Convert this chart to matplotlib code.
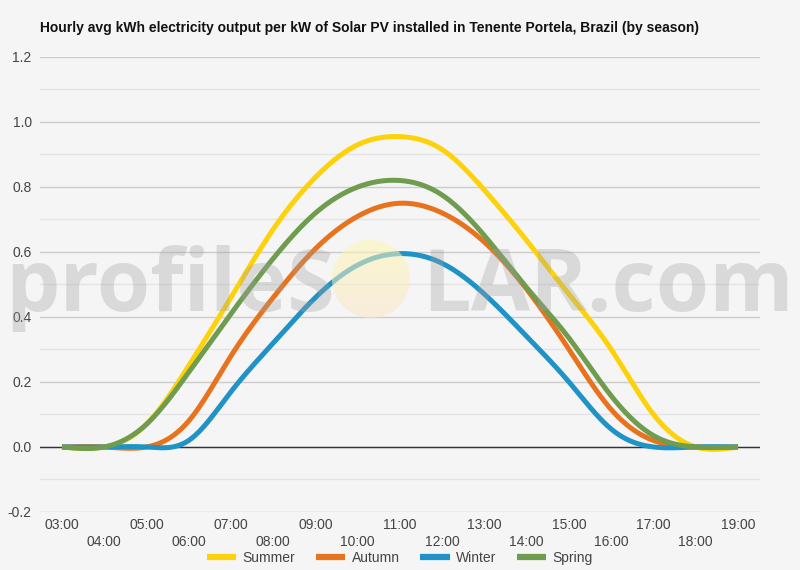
import numpy as np
import matplotlib
matplotlib.use("Agg")
import matplotlib.pyplot as plt
from matplotlib.patches import Circle
from matplotlib.ticker import MultipleLocator, FixedLocator

hours = list(range(3, 20))
hour_labels = [f"{h:02d}:00" for h in hours]

summer = [0.0, 0.0, 0.07, 0.25, 0.46, 0.67, 0.83, 0.93, 0.955, 0.915, 0.79, 0.635, 0.47, 0.30, 0.10, 0.0, 0.0]
autumn = [0.0, 0.0, 0.0, 0.08, 0.28, 0.46, 0.61, 0.71, 0.75, 0.72, 0.63, 0.485, 0.30, 0.115, 0.02, 0.0, 0.0]
winter = [0.0, 0.0, 0.0, 0.02, 0.17, 0.32, 0.46, 0.56, 0.595, 0.565, 0.47, 0.34, 0.20, 0.055, 0.0, 0.0, 0.0]
spring = [0.0, 0.0, 0.07, 0.23, 0.41, 0.58, 0.72, 0.80, 0.82, 0.775, 0.65, 0.49, 0.335, 0.157, 0.035, 0.0, 0.0]

series_names = ["Summer", "Autumn", "Winter", "Spring"]
series_colors = ["#fdd20a", "#e8731f", "#1f93c6", "#6f9c4f"]

title = "Hourly avg kWh electricity output per kW of Solar PV installed in Tenente Portela, Brazil (by season)"

FONT = ["Liberation Sans", "DejaVu Sans"]


def smooth(x, y, n=24):
    """Natural cubic spline through the data points (drawing only)."""
    x = np.asarray(x, float)
    y = np.asarray(y, float)
    k = len(x)
    h = np.diff(x)
    A = np.zeros((k, k))
    r = np.zeros(k)
    A[0, 0] = A[-1, -1] = 1.0
    for i in range(1, k - 1):
        A[i, i - 1] = h[i - 1]
        A[i, i] = 2 * (h[i - 1] + h[i])
        A[i, i + 1] = h[i]
        r[i] = 6 * ((y[i + 1] - y[i]) / h[i] - (y[i] - y[i - 1]) / h[i - 1])
    M = np.linalg.solve(A, r)
    xs, ys = [], []
    for i in range(k - 1):
        t = np.linspace(x[i], x[i + 1], n, endpoint=False)
        a = (x[i + 1] - t) / h[i]
        b = (t - x[i]) / h[i]
        s = (a * y[i] + b * y[i + 1]
             + ((a**3 - a) * M[i] + (b**3 - b) * M[i + 1]) * h[i] ** 2 / 6)
        xs.append(t)
        ys.append(s)
    xs.append([x[-1]])
    ys.append([y[-1]])
    return np.concatenate(xs), np.concatenate(ys)


bg = "#f5f5f5"
fig = plt.figure(figsize=(8, 5.7), dpi=100, facecolor=bg)
ax = fig.add_axes([0.05, 0.1018, 0.90, 0.7982])
ax.set_facecolor(bg)

for name, vals, col in zip(series_names, [summer, autumn, winter, spring], series_colors):
    xs, ys = smooth(hours, vals)
    ax.plot(xs, ys, color=col, lw=3.6, label=name, solid_capstyle="butt", zorder=3)

ax.set_xlim(hours[0] - 0.52, hours[-1] + 0.52)
ax.set_ylim(-0.2, 1.2)
ax.yaxis.set_major_locator(MultipleLocator(0.2))
ax.yaxis.set_minor_locator(MultipleLocator(0.1))
ax.grid(axis="y", which="major", color="#cccccc", lw=1, zorder=0)
ax.grid(axis="y", which="minor", color="#e4e4e4", lw=1, zorder=0)
ax.axhline(0, color="#333333", lw=1, zorder=2)
ax.set_yticks(ax.get_yticks())
ax.set_yticklabels([f"{v:.1f}" for v in ax.get_yticks()])
ax.set_ylim(-0.2, 1.2)
ax.tick_params(axis="y", which="both", length=0, pad=6, labelsize=10, labelcolor="#444444")

odd = [h for h in hours if h % 2 == 1]
even = [h for h in hours if h % 2 == 0]
ax.xaxis.set_major_locator(FixedLocator(odd))
ax.xaxis.set_minor_locator(FixedLocator(even))
ax.set_xticklabels([hour_labels[hours.index(h)] for h in odd])
ax.set_xticklabels([hour_labels[hours.index(h)] for h in even], minor=True)
ax.tick_params(axis="x", which="major", length=0, pad=4, labelsize=10, labelcolor="#444444")
ax.tick_params(axis="x", which="minor", length=0, pad=16.5, labelsize=10, labelcolor="#444444")
for s in ax.spines.values():
    s.set_visible(False)

fig.text(40 / 800, 1 - 28 / 570, title, fontsize=10, fontweight="bold",
         family=FONT, va="center", ha="left", color="#111111")

leg = fig.legend(loc="center", bbox_to_anchor=(0.5, 1 - 558 / 570), ncol=4, frameon=False,
                 fontsize=10, handlelength=2.1, handletextpad=0.45, columnspacing=1.5,
                 labelcolor="#444444", prop={"family": FONT, "size": 10})
for lh in leg.get_lines():
    lh.set_linewidth(4.5)

# watermark overlay
ov = fig.add_axes([0, 0, 1, 1], zorder=5)
ov.set_xlim(0, 800)
ov.set_ylim(570, 0)
ov.axis("off")
ov.patch.set_alpha(0)
wm = dict(fontsize=62, fontweight="bold", family="Open Sans", color="#a0a0a0", alpha=0.32,
          va="baseline")
ov.text(5, 311, "profileS", ha="left", **wm)
ov.text(794, 311, "LAR.com", ha="right", **wm)
grad = np.linspace(0, 1, 100)[:, None]
cmap = matplotlib.colors.LinearSegmentedColormap.from_list("sun", ["#fff7b0", "#fbe6c8"])
im = ov.imshow(grad, extent=(332, 410, 318, 240), cmap=cmap, alpha=0.55, aspect="auto", zorder=1)
circ = Circle((371, 279), 39, transform=ov.transData, facecolor="none", edgecolor="none")
ov.add_patch(circ)
im.set_clip_path(circ)

for t in ax.get_xticklabels(which="both") + ax.get_yticklabels():
    t.set_family(FONT)

fig.savefig("out.png", dpi=100, facecolor=bg)
